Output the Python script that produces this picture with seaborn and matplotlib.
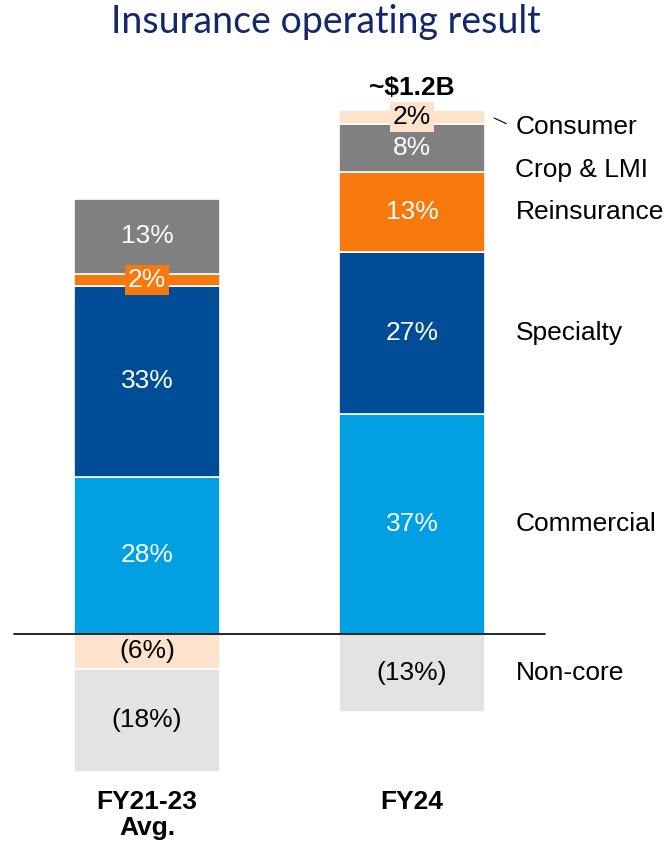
"""
Insurance operating result - stacked contribution bars
"""

import numpy as np
import matplotlib
matplotlib.use("Agg")
import matplotlib.pyplot as plt
import seaborn as sns

sns.set_theme(style="white")
plt.rcParams['font.family'] = ['Liberation Sans', 'DejaVu Sans']
plt.rcParams['text.color'] = 'black'

# Data (estimated A$M contributions)
periods = ["FY21-23\nAvg.", "FY24"]
segments = ["Commercial", "Specialty", "Reinsurance", "Crop & LMI", "Consumer", "Non-core"]
commercial = [422, 592]
specialty = [514, 436]
reinsurance = [32, 215]
crop_lmi = [202, 129]
consumer = [-94, 38]
non_core = [-277, -210]

# labels as printed on the chart
commercial_lbl = ["28%", "37%"]
specialty_lbl = ["33%", "27%"]
reinsurance_lbl = ["2%", "13%"]
crop_lmi_lbl = ["13%", "8%"]
consumer_lbl = ["(6%)", "2%"]
non_core_lbl = ["(18%)", "(13%)"]
total_lbl = [None, "~$1.2B"]

colors = {
    "Commercial": "#00A0E3",
    "Specialty": "#004C97",
    "Reinsurance": "#F7780C",
    "Crop & LMI": "#808080",
    "Consumer": "#FDE2CC",
    "Non-core": "#E3E3E3",
}
text_colors = {
    "Commercial": "white", "Specialty": "white", "Reinsurance": "white",
    "Crop & LMI": "white", "Consumer": "black", "Non-core": "black",
}

values = {
    "Commercial": commercial, "Specialty": specialty, "Reinsurance": reinsurance,
    "Crop & LMI": crop_lmi, "Consumer": consumer, "Non-core": non_core,
}
labels = {
    "Commercial": commercial_lbl, "Specialty": specialty_lbl, "Reinsurance": reinsurance_lbl,
    "Crop & LMI": crop_lmi_lbl, "Consumer": consumer_lbl, "Non-core": non_core_lbl,
}

FS = 19

fig = plt.figure(figsize=(6.67, 8.47), dpi=100)
ax = fig.add_axes([0, 0, 1, 1])

pos_base = np.zeros(len(periods))
neg_base = np.zeros(len(periods))
mids = {}
for seg in segments:
    vals = np.array(values[seg], dtype=float)
    bottoms = np.where(vals >= 0, pos_base, neg_base)
    sns.barplot(x=periods, y=vals, bottom=bottoms, color=colors[seg],
                width=0.55, edgecolor="white", linewidth=1.2,
                saturation=1, ax=ax)
    mids[seg] = bottoms + vals / 2
    pos_base = np.where(vals >= 0, pos_base + vals, pos_base)
    neg_base = np.where(vals < 0, neg_base + vals, neg_base)

# segment labels
for seg in segments:
    for i in range(len(periods)):
        small = abs(values[seg][i]) < 60
        bbox = dict(boxstyle="square,pad=0.12", fc=colors[seg], ec="none") if small else None
        ax.text(i, mids[seg][i], labels[seg][i], ha="center", va="center",
                fontsize=FS, color=text_colors[seg], bbox=bbox)

# total above FY24
ax.text(1, pos_base[1] + 58, total_lbl[1], ha="center", va="center",
        fontsize=FS, fontweight="bold", color="black")

# zero line
ax.plot([-0.5, 1.5], [0, 0], color="black", lw=1.2)

# right-hand segment names next to FY24
offsets = {"Consumer": -10, "Crop & LMI": -22}
for seg in segments:
    ax.annotate(seg, xy=(1.39, mids[seg][1]), xytext=(0, offsets.get(seg, 0)),
                textcoords="offset pixels", ha="left", va="center", fontsize=FS)
# leader line for Consumer
ax.annotate("", xy=(1.365, mids["Consumer"][1] - 8 * 2.69),
            xytext=(1.30, mids["Consumer"][1]),
            arrowprops=dict(arrowstyle="-", color="black", lw=0.8))

# category labels
for i, p in enumerate(periods):
    ax.text(i, -420, p, ha="center", va="top", fontsize=FS, fontweight="bold",
            linespacing=1.12)

ax.set_xlim(-0.5547, 1.962)
ax.set_ylim(-573, 1705)
ax.axis("off")

fig.text(0.489, 1 - 22 / 847, "Insurance operating result", ha="center", va="center",
         fontsize=27, color="#13286B", family=["Lato", "DejaVu Sans"])

plt.savefig("out.png", dpi=100)
plt.close()
